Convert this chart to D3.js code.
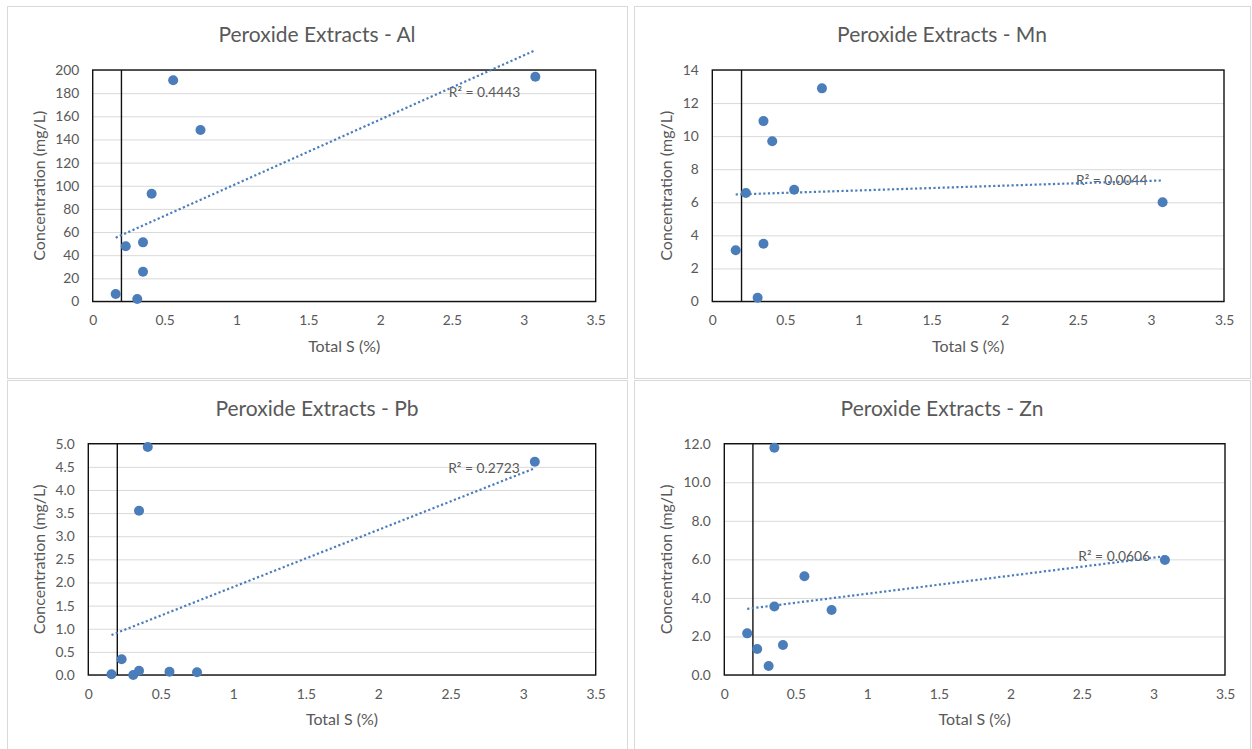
<!DOCTYPE html>
<html>
<head>
<meta charset="utf-8">
<script src="https://cdn.jsdelivr.net/npm/d3@7"></script>
<style>
body{margin:0;background:#fff;}
svg text{font-family:Lato,"Open Sans",sans-serif;fill:#595959;}
</style>
</head>
<body>
<div id="chart"></div>
<script>
// total S (%) of the nine samples, same in all four panels
var totalS = [0.16, 0.23, 0.31, 0.35, 0.35, 0.41, 0.56, 0.75, 3.08];

// peroxide extract concentrations (mg/L), same sample order
var alConc = [6.5, 47.7, 2.2, 51.1, 25.7, 93.1, 191.1, 148.2, 194.2];
var mnConc = [3.10, 6.56, 0.23, 10.91, 3.49, 9.69, 6.76, 12.89, 6.00];
var pbConc = [0.015, 0.34, 0.0, 3.55, 0.09, 4.93, 0.07, 0.06, 4.61];
var znConc = [2.16, 1.35, 0.47, 11.79, 3.55, 1.56, 5.12, 3.37, 5.97];

var elements = ['Al', 'Mn', 'Pb', 'Zn'];
var r2Labels = ['R² = 0.4443', 'R² = 0.0044', 'R² = 0.2723', 'R² = 0.0606'];
var yMaxes = [200, 14, 5, 12];
var ySteps = [20, 2, 0.5, 2];
var yFormats = ['d', 'd', '.1f', '.1f'];
var xTicks = [0, 0.5, 1, 1.5, 2, 2.5, 3, 3.5];
var cutoffS = 0.2;

var series = [alConc, mnConc, pbConc, znConc];

// where each chart sits on the page
var frames = [
	{x:7,   y:6,   w:620, h:372, plot:{l:92.7,  r:595.7, t:70,    b:301.5}},
	{x:634, y:6,   w:616, h:372, plot:{l:712.3, r:1224,  t:70,    b:301.5}},
	{x:7,   y:380, w:620, h:380, plot:{l:88.3,  r:595.7, t:443.7, b:675}},
	{x:634, y:380, w:616, h:380, plot:{l:724.3, r:1225,  t:443.7, b:675}}
];

var blue = '#4a7dba';

var svg = d3.select('#chart')
	.append('svg')
	.attr('width',1252)
	.attr('height',749);

function fit(xs, ys){
	var mx = d3.mean(xs), my = d3.mean(ys);
	var sxy = 0, sxx = 0;
	xs.forEach(function(x,i){
		sxy += (x-mx)*(ys[i]-my);
		sxx += (x-mx)*(x-mx);
	});
	var slope = sxy/sxx;
	return {slope:slope, intercept:my-slope*mx};
}

elements.forEach(function(el, k){
	var f = frames[k], p = f.plot;
	var g = svg.append('g');

	g.append('rect')
		.attr('x',f.x+0.5).attr('y',f.y+0.5)
		.attr('width',f.w).attr('height',f.h)
		.style('fill','#fff')
		.style('stroke','#d9d9d9')
		.style('stroke-width',1);

	var x = d3.scaleLinear().domain([0,3.5]).range([p.l,p.r]);
	var y = d3.scaleLinear().domain([0,yMaxes[k]]).range([p.b,p.t]);
	var yTicks = d3.range(0, yMaxes[k]+ySteps[k]/2, ySteps[k]);

	// gridlines
	g.append('g')
		.attr('transform','translate('+p.l+',0)')
		.call(d3.axisLeft(y).tickValues(yTicks).tickSize(-(p.r-p.l)).tickFormat(''))
		.call(function(s){
			s.select('.domain').remove();
			s.selectAll('line').style('stroke','#d9d9d9').style('stroke-width',1);
		});

	// tick labels
	g.append('g')
		.attr('transform','translate('+(p.l-13.5)+',0)')
		.call(d3.axisLeft(y).tickValues(yTicks).tickSize(0).tickPadding(0).tickFormat(d3.format(yFormats[k])))
		.call(function(s){
			s.select('.domain').remove();
			s.selectAll('text').style('font-size','13.8px').style('font-family',null);
		});

	g.append('g')
		.attr('transform','translate(0,'+(p.b+14)+')')
		.call(d3.axisBottom(x).tickValues(xTicks).tickSize(0).tickPadding(0).tickFormat(d3.format('')))
		.call(function(s){
			s.select('.domain').remove();
			s.selectAll('text').style('font-size','13.8px').style('font-family',null);
		});

	// plot border
	g.append('rect')
		.attr('x',p.l).attr('y',p.t)
		.attr('width',p.r-p.l).attr('height',p.b-p.t)
		.style('fill','none')
		.style('stroke','#111')
		.style('stroke-width',1.4);

	// cutoff line at S = 0.2
	g.append('line')
		.attr('x1',x(cutoffS)).attr('x2',x(cutoffS))
		.attr('y1',y(0)).attr('y2',y(yMaxes[k]))
		.style('stroke','#111')
		.style('stroke-width',1.4);

	// linear trendline
	var ys = series[k];
	var lm = fit(totalS, ys);
	var x0 = d3.min(totalS), x1 = d3.max(totalS);
	var ends = [x0, x1].map(function(v){ return [v, lm.intercept+lm.slope*v]; });

	var endY = y(ends[1][1]);
	g.append('text')
		.attr('x',x(x1)-15)
		.attr('y',Math.max(endY+5, p.t+27))
		.attr('text-anchor','end')
		.style('font-size','13.8px')
		.text(r2Labels[k]);

	g.append('path')
		.datum(ends)
		.attr('d',d3.line().x(function(d){return x(d[0]);}).y(function(d){return y(d[1]);}))
		.style('fill','none')
		.style('stroke',blue)
		.style('stroke-width',2.2)
		.style('stroke-dasharray','2.2 2.4');

	// points
	g.selectAll('circle')
		.data(ys)
		.enter()
		.append('circle')
		.attr('cx',function(d,i){return x(totalS[i]);})
		.attr('cy',function(d){return y(d);})
		.attr('r',5)
		.style('fill',blue);

	// titles
	g.append('text')
		.attr('x',f.x+f.w/2)
		.attr('y',f.y+36)
		.attr('text-anchor','middle')
		.style('font-size','21px')
		.text('Peroxide Extracts - '+el);

	g.append('text')
		.attr('x',(p.l+p.r)/2)
		.attr('y',p.b+50)
		.attr('text-anchor','middle')
		.style('font-size','16px')
		.text('Total S (%)');

	g.append('text')
		.attr('transform','translate('+(f.x+38)+','+((p.t+p.b)/2)+') rotate(-90)')
		.attr('text-anchor','middle')
		.style('font-size','16px')
		.text('Concentration (mg/L)');
});
</script>
</body>
</html>
